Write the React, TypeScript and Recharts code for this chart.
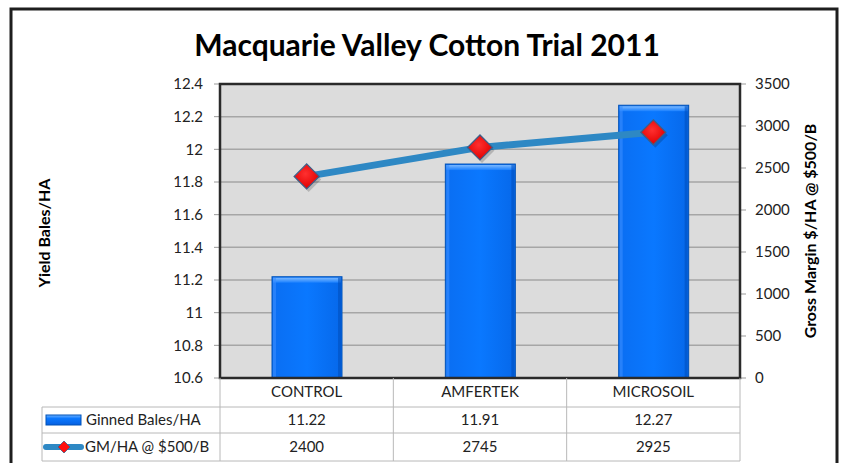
import React from 'react';
import { ComposedChart, Bar, Line, XAxis, YAxis, CartesianGrid } from 'recharts';

const categories = ['CONTROL', 'AMFERTEK', 'MICROSOIL'];
const ginnedBales = [11.22, 11.91, 12.27];
const grossMargin = [2400, 2745, 2925];
const yieldTicks = [10.6, 10.8, 11, 11.2, 11.4, 11.6, 11.8, 12, 12.2, 12.4];
const marginTicks = [0, 500, 1000, 1500, 2000, 2500, 3000, 3500];
const seriesNames = ['Ginned Bales/HA', 'GM/HA @ $500/B'];
const chartTitle = 'Macquarie Valley Cotton Trial 2011';
const leftTitle = 'Yield Bales/HA';
const rightTitle = 'Gross Margin $/HA @ $500/B';

const data = categories.map((c, i) => ({ category: c, bales: ginnedBales[i], gm: grossMargin[i] }));

const W = 846;
const H = 463;
const PL = 220;
const PR = 740;
const PT = 84;
const PB = 378;
const AXW = 60;
const XH = 29;
const ROW1 = 407;
const ROW2 = 433;
const ROW3 = 461;
const TABLE_L = 42;
const FONT = "Lato, 'Open Sans', sans-serif";

const fmt = (v: number) => String(Math.round(v * 10) / 10);

const BarShape = (props: any) => {
  const { x, y, width, height } = props;
  if (!height || height <= 0) return null;
  return (
    <g>
      <rect x={x} y={y} width={width} height={height} fill="url(#barGrad)" stroke="#0052b8" strokeWidth={1} />
      <rect x={x + 1} y={y + 1} width={width - 2} height={5} fill="url(#bevelGrad)" />
      <rect x={x + 1} y={y + 1} width={3} height={height - 2} fill="#3a8eff" opacity={0.6} />
      <rect x={x + width - 4} y={y + 1} width={3} height={height - 2} fill="#0050c0" opacity={0.6} />
    </g>
  );
};

const Diamond = (props: any) => {
  const { cx, cy, index } = props;
  if (cx == null || cy == null) return null;
  const r = 12.5;
  return (
    <g key={`d-${index}`}>
      <polygon
        points={`${cx + 2},${cy - r + 3} ${cx + r + 2},${cy + 3} ${cx + 2},${cy + r + 3} ${cx - r + 2},${cy + 3}`}
        fill="#000"
        opacity={0.18}
      />
      <polygon
        points={`${cx},${cy - r} ${cx + r},${cy} ${cx},${cy + r} ${cx - r},${cy}`}
        fill="url(#diamondGrad)"
        stroke="#3d5f88"
        strokeWidth={1.3}
      />
    </g>
  );
};

export default function App() {
  const colW = (PR - PL) / categories.length;
  return (
    <div style={{ position: 'absolute', left: 0, top: 0, width: W, height: H, background: '#fff', overflow: 'hidden' }}>
      <ComposedChart
        width={W}
        height={H}
        data={data}
        margin={{ top: PT, left: PL - AXW, right: W - PR - AXW, bottom: H - PB - XH }}
        barCategoryGap={0}
      >
        <defs>
          <linearGradient id="barGrad" x1="0" y1="0" x2="1" y2="0">
            <stop offset="0%" stopColor="#0a6ef2" />
            <stop offset="50%" stopColor="#0a78ff" />
            <stop offset="100%" stopColor="#0668ea" />
          </linearGradient>
          <linearGradient id="bevelGrad" x1="0" y1="0" x2="0" y2="1">
            <stop offset="0%" stopColor="#7ab8ff" />
            <stop offset="100%" stopColor="#1a80ff" />
          </linearGradient>
          <radialGradient id="diamondGrad" cx="0.45" cy="0.4" r="0.6">
            <stop offset="0%" stopColor="#ff3030" />
            <stop offset="100%" stopColor="#e00000" />
          </radialGradient>
        </defs>
        <CartesianGrid
          yAxisId="left"
          vertical={false}
          horizontal
          fill="#dcdcdc"
          fillOpacity={1}
          stroke="#a6a6a6"
          strokeWidth={1.5}
        />
        <XAxis
          dataKey="category"
          height={XH}
          axisLine={false}
          tickLine={false}
          tickSize={0}
          tickMargin={8}
          tick={{ fontSize: 15, fill: '#222', fontFamily: FONT }}
        />
        <YAxis
          yAxisId="left"
          orientation="left"
          width={AXW}
          domain={[10.6, 12.4]}
          ticks={yieldTicks}
          tickFormatter={fmt}
          allowDataOverflow
          axisLine={false}
          tickLine={{ stroke: '#999' }}
          tickSize={6}
          tickMargin={11}
          tick={{ fontSize: 15, fill: '#222', fontFamily: FONT }}
        />
        <YAxis
          yAxisId="right"
          orientation="right"
          width={AXW}
          domain={[0, 3500]}
          ticks={marginTicks}
          axisLine={false}
          tickLine={{ stroke: '#999' }}
          tickSize={6}
          tickMargin={9}
          tick={{ fontSize: 15, fill: '#222', fontFamily: FONT }}
        />
        <Bar
          yAxisId="left"
          dataKey="bales"
          barSize={70}
          shape={<BarShape />}
          isAnimationActive={false}
        />
        <Line
          yAxisId="right"
          dataKey="gm"
          stroke="#2e88c4"
          strokeWidth={7}
          dot={<Diamond />}
          activeDot={false}
          isAnimationActive={false}
        />
      </ComposedChart>
      <svg width={W} height={H} style={{ position: 'absolute', left: 0, top: 0, pointerEvents: 'none' }}>
        <rect x={11} y={9} width={826} height={H + 20} fill="none" stroke="#1e1e1e" strokeWidth={3} />
        <rect x={PL} y={PT} width={PR - PL} height={PB - PT} fill="none" stroke="#2a2a2a" strokeWidth={2.5} />
        <text x={427} y={56} textAnchor="middle" fontFamily={FONT} fontWeight="bold" fontSize={30} fill="#000">
          {chartTitle}
        </text>
        <text
          x={0}
          y={0}
          transform={`translate(50, 233) rotate(-90)`}
          textAnchor="middle"
          fontFamily={FONT}
          fontWeight="bold"
          fontSize={16}
          fill="#000"
        >
          {leftTitle}
        </text>
        <text
          x={0}
          y={0}
          transform={`translate(816, 231) rotate(-90)`}
          textAnchor="middle"
          fontFamily={FONT}
          fontWeight="bold"
          fontSize={16}
          fill="#000"
        >
          {rightTitle}
        </text>
        {categories.map((_, i) => (
          <line key={`v${i}`} x1={PL + (i + 1) * colW} y1={PB} x2={PL + (i + 1) * colW} y2={ROW3} stroke="#b8b8b8" strokeWidth={1} />
        ))}
        <line x1={PL} y1={PB} x2={PL} y2={ROW3} stroke="#b8b8b8" strokeWidth={1} />
        <line x1={TABLE_L} y1={ROW1} x2={TABLE_L} y2={ROW3} stroke="#b8b8b8" strokeWidth={1} />
        {[ROW1, ROW2, ROW3].map((y) => (
          <line key={`h${y}`} x1={TABLE_L} y1={y} x2={PR} y2={y} stroke="#b8b8b8" strokeWidth={1} />
        ))}
        <defs>
          <linearGradient id="legBar" x1="0" y1="0" x2="0" y2="1">
            <stop offset="0%" stopColor="#6fb2ff" />
            <stop offset="35%" stopColor="#0a78ff" />
            <stop offset="100%" stopColor="#0660e0" />
          </linearGradient>
        </defs>
        <rect x={46} y={415} width={35} height={10} fill="url(#legBar)" stroke="#0052b8" strokeWidth={1} />
        <line x1={46} y1={447} x2={81} y2={447} stroke="#2e88c4" strokeWidth={6} strokeLinecap="round" />
        <polygon points="64,441 70,447 64,453 58,447" fill="#ff1010" stroke="#3d5f88" strokeWidth={0.8} />
        <text x={86} y={425} fontFamily={FONT} fontSize={15} fill="#222">{seriesNames[0]}</text>
        <text x={85} y={452} fontFamily={FONT} fontSize={15} fill="#222">{seriesNames[1]}</text>
        {categories.map((c, i) => (
          <g key={`vals-${c}`}>
            <text x={PL + (i + 0.5) * colW} y={425} textAnchor="middle" fontFamily={FONT} fontSize={15} fill="#222">
              {ginnedBales[i]}
            </text>
            <text x={PL + (i + 0.5) * colW} y={452} textAnchor="middle" fontFamily={FONT} fontSize={15} fill="#222">
              {grossMargin[i]}
            </text>
          </g>
        ))}
      </svg>
    </div>
  );
}
